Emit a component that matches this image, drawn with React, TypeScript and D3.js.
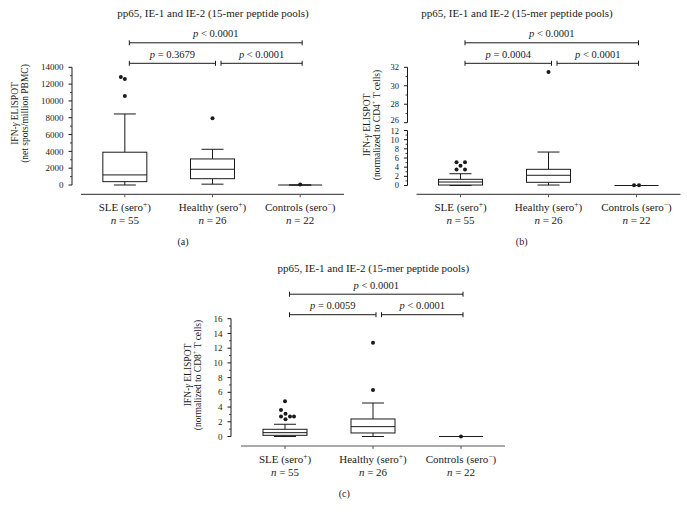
import React from "react";
import * as d3 from "d3";

// ---------- data ----------
const categories = ["SLE", "Healthy", "Controls"];
const serostatus = ["+", "+", "−"];
const sampleSizes = [55, 26, 22];
const titleText = "pp65, IE-1 and IE-2 (15-mer peptide pools)";

// Panel (a): net spots / million PBMC
const aMin = [0, 100, 0];
const aQ1 = [400, 750, 0];
const aMedian = [1200, 1870, 0];
const aQ3 = [3900, 3100, 0];
const aMax = [8450, 4250, 0];
const aOutliers = [[12850, 12600, 10600], [7950], [60]];
const aJitter = [[-4, 0, 0], [0], [0]];
const aMajorTicks = [0, 2000, 4000, 6000, 8000, 10000, 12000, 14000];
const aMinorTicks = [1000, 3000, 5000, 7000, 9000, 11000, 13000];
const aPValues = ["< 0.0001", "= 0.3679", "< 0.0001"];

// Panel (b): normalized to CD4+ T cells (broken axis)
const bMin = [0, 0.1, 0];
const bQ1 = [0.1, 0.7, 0];
const bMedian = [0.76, 2.23, 0];
const bQ3 = [1.35, 3.53, 0];
const bMax = [2.57, 7.3, 0];
const bOutliers = [[5.05, 5.05, 4.3, 3.5, 3.5], [31.5], [0.05, 0.05]];
const bJitter = [[-4, 4.5, 0, -4, 4.5], [0], [-2.5, 2.5]];
const bMajorTicks = [0, 2, 4, 6, 8, 10, 12, 26, 28, 30, 32];
const bMinorTicks = [1, 3, 5, 7, 9, 11, 27, 29, 31];
const bPValues = ["< 0.0001", "= 0.0004", "< 0.0001"];

// Panel (c): normalized to CD8+ T cells
const cMin = [0, 0, 0];
const cQ1 = [0.16, 0.48, 0];
const cMedian = [0.52, 1.34, 0];
const cQ3 = [0.98, 2.38, 0];
const cMax = [1.66, 4.55, 0];
const cOutliers = [[4.8, 3.6, 3.1, 2.7, 2.7, 2.7, 2.34], [12.75, 6.32], [0]];
const cJitter = [[0, -4, 0.5, -4, 5, 9, 0.5], [0, 0], [0]];
const cMajorTicks = [0, 2, 4, 6, 8, 10, 12, 14, 16];
const cMinorTicks = [1, 3, 5, 7, 9, 11, 13, 15];
const cPValues = ["< 0.0001", "= 0.0059", "< 0.0001"];

const FONT = "'Liberation Serif', 'DejaVu Serif', serif";
const INK = "#1a1a1a";
const AXIS = "#555";

type PanelProps = {
  letter: string;
  yScale: d3.ScaleLinear<number, number>;
  ySegments: number[][];
  yAxisX: number;
  xRange: [number, number];
  xAxisY: number;
  titleX: number;
  titleY: number;
  letterX: number;
  labelX: number;
  labelY: number;
  ylabel2: React.ReactNode;
  stats: { min: number[]; q1: number[]; med: number[]; q3: number[]; max: number[]; out: number[][]; jit: number[][] };
  majorTicks: number[];
  minorTicks: number[];
  pValues: string[];
  tickFont: number;
  tickNudge?: (t: number) => number;
};

function Panel(p: PanelProps) {
  const x = d3.scaleBand<string>().domain(categories).range(p.xRange).padding(0);
  const bw = 44;
  const capW = 22;
  const cx = (c: string) => (x(c) as number) + x.bandwidth() / 2;
  const y = p.yScale;
  const nudge = p.tickNudge || (() => 0);
  const yTop = d3.min(p.ySegments.map((s) => y(s[1]))) as number;
  const topBr = yTop - 24.5;
  const lowBr = yTop - 4;
  const brackets = [
    { x1: cx("SLE") + 4.5, x2: cx("Controls") + 2, y: topBr, t: p.pValues[0] },
    { x1: cx("SLE") + 4.5, x2: cx("Healthy") + 3, y: lowBr, t: p.pValues[1] },
    { x1: cx("Healthy") + 8.5, x2: cx("Controls") + 2, y: lowBr, t: p.pValues[2] },
  ];
  return (
    <g fontFamily={FONT} fill={INK}>
      <text x={p.titleX} y={p.titleY} textAnchor="middle" fontSize={11}>{titleText}</text>
      {brackets.map((b, i) => (
        <g key={i} stroke={INK} strokeWidth={1}>
          <line x1={b.x1} x2={b.x2} y1={b.y} y2={b.y} />
          <line x1={b.x1} x2={b.x1} y1={b.y - 2.5} y2={b.y + 2.5} />
          <line x1={b.x2} x2={b.x2} y1={b.y - 2.5} y2={b.y + 2.5} />
          <text x={(b.x1 + b.x2) / 2} y={b.y - 5.5} textAnchor="middle" fontSize={10.5} stroke="none">
            <tspan fontStyle="italic">p</tspan> {b.t}
          </text>
        </g>
      ))}
      {/* y axis */}
      {p.ySegments.map((s, i) => (
        <line key={i} x1={p.yAxisX} x2={p.yAxisX} y1={y(s[0])} y2={y(s[1])} stroke={INK} strokeWidth={1} />
      ))}
      {p.majorTicks.map((t) => (
        <g key={"M" + t}>
          <line x1={p.yAxisX - 3.5} x2={p.yAxisX} y1={y(t)} y2={y(t)} stroke={INK} strokeWidth={1} />
          <text x={p.yAxisX - 8.5} y={y(t) + nudge(t)} dy="0.35em" textAnchor="end" fontSize={p.tickFont}>{t}</text>
        </g>
      ))}
      {p.minorTicks.map((t) => (
        <line key={"m" + t} x1={p.yAxisX - 2} x2={p.yAxisX} y1={y(t)} y2={y(t)} stroke={INK} strokeWidth={0.8} />
      ))}
      {/* y label */}
      <text transform={`translate(${p.labelX},${p.labelY}) rotate(-90)`} textAnchor="middle" fontSize={9.5}>
        IFN-<tspan fontStyle="italic">γ</tspan> ELISPOT
      </text>
      <text transform={`translate(${p.labelX + 10},${p.labelY}) rotate(-90)`} textAnchor="middle" fontSize={9.5}>
        {p.ylabel2}
      </text>
      {/* x axis */}
      <line x1={p.xRange[0]} x2={p.xRange[1]} y1={p.xAxisY} y2={p.xAxisY} stroke={AXIS} strokeWidth={1.2} />
      {categories.map((c, i) => (
        <g key={c}>
          <line x1={cx(c)} x2={cx(c)} y1={p.xAxisY} y2={p.xAxisY + 3} stroke={AXIS} strokeWidth={1} />
          <text x={cx(c)} y={p.xAxisY + 16.5} textAnchor="middle" fontSize={11}>
            {c} (sero<tspan dy={-4} fontSize={7.5}>{serostatus[i]}</tspan><tspan dy={4}>)</tspan>
          </text>
          <text x={cx(c)} y={p.xAxisY + 29.5} textAnchor="middle" fontSize={11}>
            <tspan fontStyle="italic">n</tspan> = {sampleSizes[i]}
          </text>
        </g>
      ))}
      {/* boxes */}
      {categories.map((c, i) => {
        const s = p.stats;
        const X = cx(c);
        return (
          <g key={"b" + c} stroke={INK} strokeWidth={1}>
            <line x1={X} x2={X} y1={y(s.max[i])} y2={y(s.q3[i])} />
            <line x1={X} x2={X} y1={y(s.q1[i])} y2={y(s.min[i])} />
            <line x1={X - capW / 2} x2={X + capW / 2} y1={y(s.max[i])} y2={y(s.max[i])} />
            <line x1={X - capW / 2} x2={X + capW / 2} y1={y(s.min[i])} y2={y(s.min[i])} />
            <rect x={X - bw / 2} width={bw} y={y(s.q3[i])} height={Math.max(0, y(s.q1[i]) - y(s.q3[i]))} fill="white" />
            <line x1={X - bw / 2} x2={X + bw / 2} y1={y(s.med[i])} y2={y(s.med[i])} />
            {s.out[i].map((v, k) => (
              <circle key={k} cx={X + s.jit[i][k]} cy={y(v)} r={2} fill={INK} stroke="none" />
            ))}
          </g>
        );
      })}
      <text x={p.letterX} y={p.xAxisY + 51} textAnchor="middle" fontSize={10}>({p.letter})</text>
    </g>
  );
}

export default function App() {
  const yA = d3.scaleLinear().domain([0, 14000]).range([185, 67.3]);
  const yB = d3.scaleLinear().domain([0, 12, 26, 32]).range([185.5, 130.5, 122.7, 67.3]);
  const yC = d3.scaleLinear().domain([0, 16]).range([436.5, 318.7]);
  return (
    <svg width={687} height={515} style={{ position: "absolute", left: 0, top: 0, background: "white" }}>
      <Panel
        letter="a"
        yScale={yA}
        ySegments={[[0, 14000]]}
        yAxisX={72}
        xRange={[81, 344]}
        xAxisY={194.3}
        titleX={213}
        titleY={17}
        letterX={183}
        labelX={17.5}
        labelY={113.5}
        ylabel2="(net spots/million PBMC)"
        stats={{ min: aMin, q1: aQ1, med: aMedian, q3: aQ3, max: aMax, out: aOutliers, jit: aJitter }}
        majorTicks={aMajorTicks}
        minorTicks={aMinorTicks}
        pValues={aPValues}
        tickFont={9}
      />
      <Panel
        letter="b"
        yScale={yB}
        ySegments={[[0, 12], [26, 32]]}
        yAxisX={407.5}
        xRange={[416.5, 680.5]}
        xAxisY={194.3}
        titleX={517}
        titleY={17}
        letterX={521.7}
        labelX={369.5}
        labelY={125}
        ylabel2={<>(normalized to CD4<tspan dy={-3.5} fontSize={6.5}>+</tspan><tspan dy={3.5}> T cells)</tspan></>}
        stats={{ min: bMin, q1: bQ1, med: bMedian, q3: bQ3, max: bMax, out: bOutliers, jit: bJitter }}
        majorTicks={bMajorTicks}
        minorTicks={bMinorTicks}
        pValues={bPValues}
        tickFont={8.5}
        tickNudge={(t) => (t === 26 ? -2.5 : t === 12 ? 0.5 : 0)}
      />
      <Panel
        letter="c"
        yScale={yC}
        ySegments={[[0, 16]]}
        yAxisX={231}
        xRange={[241, 505]}
        xAxisY={446}
        titleX={373.3}
        titleY={272}
        letterX={344.3}
        labelX={190.5}
        labelY={375}
        ylabel2={<>(normalized to CD8<tspan dy={-3.5} fontSize={6.5}>+</tspan><tspan dy={3.5}> T cells)</tspan></>}
        stats={{ min: cMin, q1: cQ1, med: cMedian, q3: cQ3, max: cMax, out: cOutliers, jit: cJitter }}
        majorTicks={cMajorTicks}
        minorTicks={cMinorTicks}
        pValues={cPValues}
        tickFont={9}
      />
    </svg>
  );
}
